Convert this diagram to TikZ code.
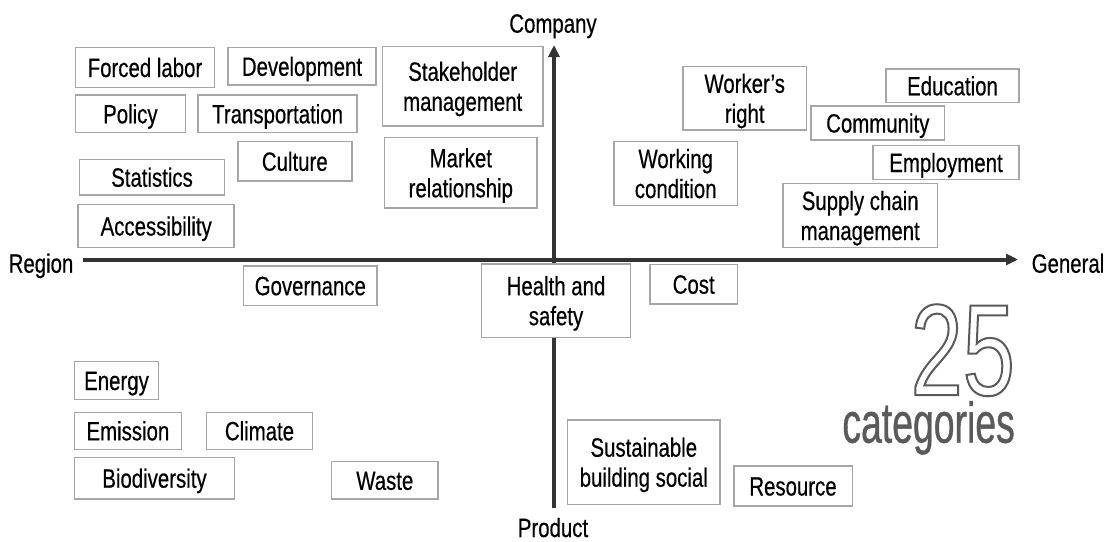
\documentclass[tikz,border=0pt]{standalone}
\usepackage{fontspec}
\setmainfont{Liberation Sans}[FakeStretch=0.77,FakeBold=0.4]
\newfontfamily\numfont{Liberation Sans}[FakeStretch=0.72]
\newfontfamily\catfont{Liberation Sans}[FakeStretch=0.65,FakeBold=0.6]
\usetikzlibrary{arrows.meta}
\definecolor{axiscol}{HTML}{333333}
\definecolor{boxcol}{HTML}{A6A6A6}
\definecolor{bigcol}{HTML}{5A5A5A}
\newcommand{\outlinetxt}[1]{\special{pdf:literal direct 1 Tr 2 w}#1\special{pdf:literal direct 0 Tr}}
\tikzset{
  cat/.style={draw=boxcol, line width=1.5pt, fill=white, inner sep=0pt,
    text height=19pt, text depth=0pt, align=center,
    font=\fontsize{26.5}{30}\selectfont},
  cattwo/.style={cat, text height=49pt, text depth=0pt},
  axislabel/.style={inner sep=0pt, anchor=base, font=\fontsize{26.5}{30}\selectfont},
  axis/.style={draw=axiscol, line width=4pt, -{Triangle[length=12pt,width=11pt]}}
}
\begin{document}
\begin{tikzpicture}[x=1pt,y=-1pt]
\useasboundingbox (0,0) rectangle (1105,541);
\fill[white] (0,0) rectangle (1105,541);
% axes
\coordinate (hstart) at (83,259.5);
\coordinate (hend) at (1018,259.5);
\coordinate (vstart) at (554,508);
\coordinate (vend) at (554,45);
\draw[axis] (hstart) -- (hend);
\draw[axis] (vstart) -- (vend);
\node[axislabel] (company) at (553,32.7) {Company};
\node[axislabel] (region) at (41,272.7) {Region};
\node[axislabel] (general) at (1068,272.7) {General};
\node[axislabel] (product) at (553,537) {Product};
% boxes
\node[cat, minimum width=138.6pt, minimum height=39.6pt] (forced) at (145,67.5) {Forced labor};
\node[cat, minimum width=148pt, minimum height=37.3pt] (dev) at (302,66.3) {Development};
\node[cattwo, minimum width=160.5pt, minimum height=79.3pt] (stake) at (462.7,86.3) {Stakeholder\\management};
\node[cat, minimum width=110pt, minimum height=37.7pt] (policy) at (130.4,113.8) {Policy};
\node[cat, minimum width=159pt, minimum height=37.7pt] (transport) at (277.6,113.8) {Transportation};
\node[cat, minimum width=114pt, minimum height=39.3pt] (culture) at (294.8,161.3) {Culture};
\node[cattwo, minimum width=152.5pt, minimum height=70.3pt] (market) at (460.8,172.8) {Market\\relationship};
\node[cat, minimum width=144.7pt, minimum height=35.7pt] (stats) at (152,177.2) {Statistics};
\node[cat, minimum width=156pt, minimum height=43.3pt] (access) at (156.2,226) {Accessibility};
\node[cattwo, minimum width=123.2pt, minimum height=63.3pt] (worker) at (744.7,98.3) {Worker’s\\right};
\node[cat, minimum width=133pt, minimum height=33.7pt] (edu) at (952.5,85.8) {Education};
\node[cat, minimum width=133.7pt, minimum height=34pt] (community) at (877.8,123) {Community};
\node[cattwo, minimum width=123.6pt, minimum height=63.6pt] (working) at (675.7,173.5) {Working\\condition};
\node[cat, minimum width=146pt, minimum height=33.6pt] (employ) at (946,162.5) {Employment};
\node[cattwo, minimum width=154.7pt, minimum height=64.4pt] (supply) at (860.2,215.5) {Supply chain\\management};
\node[cat, minimum width=133.4pt, minimum height=39.3pt] (govern) at (310.3,285.7) {Governance};
\node[cattwo, minimum width=149.2pt, minimum height=73.3pt] (health) at (556,300.7) {Health and\\safety};
\node[cat, minimum width=87.7pt, minimum height=39.7pt] (cost) at (693.7,284.2) {Cost};
\node[cat, minimum width=84.3pt, minimum height=37.6pt] (energy) at (116.5,380.5) {Energy};
\node[cat, minimum width=107pt, minimum height=37pt] (emission) at (127.9,430.8) {Emission};
\node[cat, minimum width=106pt, minimum height=37pt] (climate) at (259.5,430.8) {Climate};
\node[cat, minimum width=160.3pt, minimum height=41.7pt] (bio) at (154.5,478.2) {Biodiversity};
\node[cat, minimum width=106.8pt, minimum height=37.3pt] (waste) at (384.8,480.3) {Waste};
\node[cattwo, minimum width=152.5pt, minimum height=84.3pt] (sustain) at (643.8,462.2) {Sustainable\\building social};
\node[cat, minimum width=118.5pt, minimum height=40pt] (resource) at (793,486) {Resource};
% big count
\node[inner sep=0pt, anchor=base east, text=bigcol, font=\catfont\fontsize{57.5}{60}\selectfont] (categories) at (1015,442.7) {categories};
\node[inner sep=0pt, anchor=base east, text=bigcol, font=\numfont\fontsize{130}{130}\selectfont] (count) at (1015,395) {\outlinetxt{25}};
\end{tikzpicture}
\end{document}
